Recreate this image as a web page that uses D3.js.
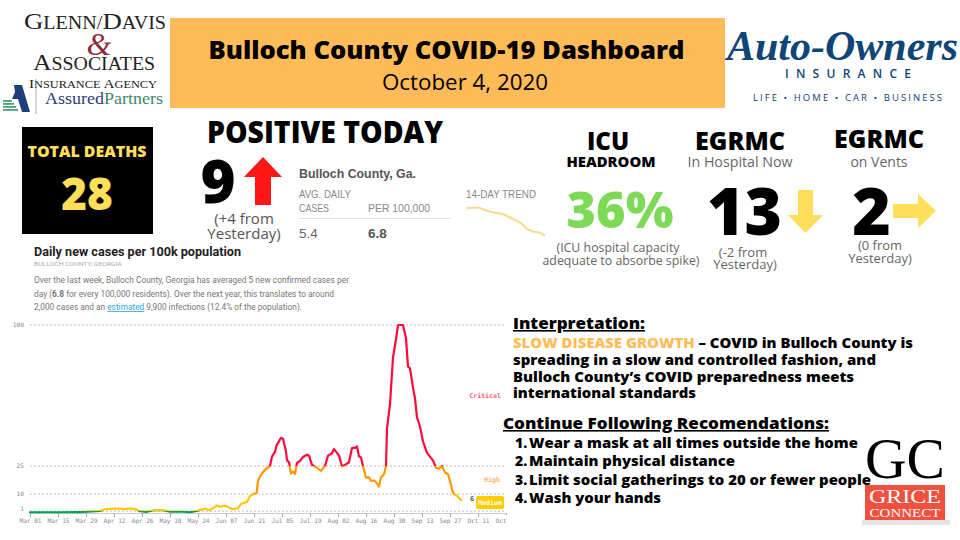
<!DOCTYPE html>
<html><head><meta charset="utf-8">
<script src="https://cdn.jsdelivr.net/npm/d3@7"></script>
<style>
html,body{margin:0;padding:0;background:#fff;width:960px;height:540px;overflow:hidden}
svg{display:block;font-family:"Open Sans",sans-serif}
</style></head><body><svg id="c" width="960" height="540"></svg>
<script>
// ---- data ----
const daysSinceMar1 = [0,15,25,31,35,37.5,41.5,44.5,47.5,50,52.5,55,58,62.5,66.5,70,75,80,84,87.5,90,93.5,95,97.5,101,104,105.5,108.5,110,111.5,113.3,114,115.3,117.5,120,121,122.5,123.3,125.5,126.5,128,128.5,129.5,130.5,131.5,132.5,133.5,135,136.5,138.5,139.5,141,143.5,145.5,147.5,149,151,152,153.5,154.5,156,157.5,159.5,161,162.5,163.5,164.5,165.5,166.5,168,169.5,170.5,172,173.5,174.5,175.5,177,178,178.5,180,181.5,183,184,186.5,188,189,190,191.5,192.5,193.5,195,196.5,198.5,201.5,203,204.5,206,207.5,209,210,211.3,212,213.5,215.3,215.7];
const caseRate = [0.4,0.4,0.5,0.9,1.1,2,2.3,2.4,2,2.5,2.1,1,0.6,1.6,1.5,0.7,0.8,0.4,1.3,2.3,1.5,4,3.3,4,2.1,2.5,4.8,5.9,9,10,10.5,17,20,23,25,30,32.5,36,40,39.5,32.7,28,27,21,22,20.8,26.6,27.7,29.8,31,30.5,25.6,24,22.4,25,30.5,31.8,34,32,30.5,24.7,25.6,27,34.6,34.6,35.4,30,29.5,25,18.8,19,17,17.3,15.8,14,19,20.6,25,45,57.8,82.7,92.4,100,100,93,78,77,66.7,61,50.7,46,38,32,28,24,23.5,25,21.5,20.6,17,11.4,10,9.2,7,6.8];
const tickDays = [0,14,28,42,56,70,84,98,112,126,140,154,168,182,196,210,224,238];
const gridLevels = [1,10,25,100];
const riskBands = [0,1,10,25,100];
const riskColors = ["#00a651","#ffc800","#ff9800","#ff0a3c"];
const trendValues = [32,32.2,32.3,30,28,27,26,23,20,17,11,8.5,7.5,4.3];
const interpretationLines = ["spreading in a slow and controlled fashion, and","Bulloch County\u2019s COVID preparedness meets","international standards"];
const recommendations = ["Wear a mask at all times outside the home","Maintain physical distance","Limit social gatherings to 20 or fewer people","Wash your hands"];
const paragraph = ["Over the last week, Bulloch County, Georgia has averaged 5 new confirmed cases per","day (<b>6.8</b> for every 100,000 residents). Over the next year, this translates to around","2,000 cases and an <u>estimated</u> 9,900 infections (12.4% of the population)."];

const svg = d3.select("#c");
function T(x,y,s,size,o={}){
  const t=svg.append("text").attr("x",x).attr("y",y).attr("font-size",size)
    .attr("fill",o.fill||"#000").attr("font-weight",o.w||400)
    .attr("text-anchor",o.a||"start").attr("font-family",o.f||null)
    .attr("font-style",o.i||null).attr("letter-spacing",o.ls||null)
    .attr("text-decoration",o.u?"underline":null).text(s);
  if(o.len) t.attr("textLength",o.len).attr("lengthAdjust",o.adj||"spacingAndGlyphs");
  return t;
}
const arrow=(pts,fill)=>svg.append("polygon").attr("points",pts).attr("fill",fill);

// ---- chart ----
const start=new Date(2020,2,1);
const toDate=d=>new Date(start.getTime()+d*864e5);
const x=d3.scaleTime().domain([toDate(0),toDate(238)]).range([30,506]);
const y=d3.scaleLinear().domain([0,100]).range([513,325]);
const mono='"DejaVu Sans Mono",monospace';
const chart=svg.append("g");
const defs=svg.append("defs");

const gridG=chart.append("g");
gridG.selectAll("line").data(gridLevels).join("line")
  .attr("x1",x.range()[0]).attr("x2",x.range()[1]).attr("y1",d=>y(d)).attr("y2",d=>y(d))
  .attr("stroke","#bdbdbd").attr("stroke-width",1).attr("stroke-dasharray","2 2");
gridG.selectAll("text").data(gridLevels).join("text")
  .attr("x",24).attr("y",d=>y(d)+(d===1?0:2)).attr("text-anchor","end")
  .attr("font-family",mono).attr("font-size",6.2).attr("fill","#888").text(d=>d);

const axis=d3.axisBottom(x).tickValues(tickDays.map(toDate)).tickFormat(d3.timeFormat("%b %d")).tickSize(4).tickSizeOuter(0);
const axG=chart.append("g").attr("transform","translate(0,513)").call(axis);
axG.attr("font-family",mono).attr("font-size",6.1);
axG.selectAll("text").attr("fill","#888").attr("dy","0.55em");
axG.selectAll("line").attr("stroke","#aaa");
axG.select(".domain").attr("stroke","#ccc");
svg.append("rect").attr("x",506).attr("y",515).attr("width",30).attr("height",12).attr("fill","#fff");

const pts=daysSinceMar1.map((d,i)=>[toDate(d),caseRate[i]]);
const line=d3.line().x(d=>x(d[0])).y(d=>y(d[1])).curve(d3.curveLinear);
riskColors.forEach((c,i)=>{
  const id="band"+i;
  const top=i===riskColors.length-1?y(riskBands[i+1])-4:y(riskBands[i+1]);
  const bot=i===0?y(0)+4:y(riskBands[i]);
  defs.append("clipPath").attr("id",id).append("rect").attr("x",0).attr("width",960).attr("y",top).attr("height",bot-top);
  chart.append("path").datum(pts).attr("d",line).attr("fill","none").attr("stroke",c)
    .attr("stroke-width",2.2).attr("stroke-linejoin","round").attr("stroke-linecap","round").attr("clip-path",`url(#${id})`);
});
T(501,398,"Critical",6.6,{f:mono,fill:"#ff5c80",a:"end",w:700});
T(500,482,"High",6.6,{f:mono,fill:"#ffb060",a:"end",w:700});
const lastRate=caseRate[caseRate.length-1];
T(474,y(lastRate)+0.5,Math.floor(lastRate),6.6,{f:mono,fill:"#555",a:"end",w:700});
svg.append("rect").attr("x",476).attr("y",496).attr("width",28).attr("height",13).attr("rx",2).attr("fill","#ffcc00");
T(490,504.8,"Medium",6.6,{f:mono,fill:"#fff",a:"middle",w:700});

// chart header
T(34,256,"Daily new cases per 100k population",12,{f:"Roboto",w:700,fill:"#222",len:207});
T(34,266,"BULLOCH COUNTY, GEORGIA",5.6,{f:"Roboto",fill:"#aaa",len:88});
const paraX=[315,300,268];
paragraph.forEach((p,i)=>{
  const t=svg.append("text").attr("x",34).attr("y",283+i*13.5).attr("font-family","Roboto").attr("font-size",8.4).attr("fill","#777");
  p.split(/(<b>.*?<\/b>|<u>.*?<\/u>)/).forEach(s=>{
    if(!s)return;
    const ts=t.append("tspan");
    if(s.startsWith("<b>")) ts.attr("font-weight",700).text(s.slice(3,-4));
    else if(s.startsWith("<u>")) ts.attr("fill","#35a7d8").attr("text-decoration","underline").text(s.slice(3,-4));
    else ts.text(s);
  });
  t.attr("textLength",paraX[i]).attr("lengthAdjust","spacingAndGlyphs");
});

// title banner
svg.append("rect").attr("x",170).attr("y",18).attr("width",555).attr("height",90).attr("fill","#ffbb58");
T(446.5,59,"Bulloch County COVID-19 Dashboard",25,{w:800,a:"middle",len:476});
T(465,90,"October 4, 2020",22,{a:"middle",len:166});

// Glenn/Davis logo
const serif='"Liberation Serif",serif';
const gd=T(24,29,"",21,{f:serif,fill:"#222"});
[["G",24],["LENN/",18],["D",24],["AVIS",18]].forEach(([s,z])=>gd.append("tspan").attr("font-size",z).text(s));
gd.attr("textLength",142).attr("lengthAdjust","spacingAndGlyphs");
T(99,55,"&",32,{f:serif,i:"italic",fill:"#8f2a3a",a:"middle"});
const as=T(33,70,"",21,{f:serif,fill:"#222"});
[["A",24],["SSOCIATES",18.5]].forEach(([s,z])=>as.append("tspan").attr("font-size",z).text(s));
as.attr("textLength",122).attr("lengthAdjust","spacingAndGlyphs");
const ia=T(29,88,"",12,{f:serif,fill:"#222"});
[["I",13],["NSURANCE ",10.5],["A",13],["GENCY",10.5]].forEach(([s,z])=>ia.append("tspan").attr("font-size",z).text(s));
ia.attr("textLength",128).attr("lengthAdjust","spacingAndGlyphs");
svg.append("line").attr("x1",36).attr("x2",36).attr("y1",79).attr("y2",114).attr("stroke","#888").attr("stroke-width",0.7);
arrow("14,85 22,85 30,112 22,112 18,99 12,99 15,92","#1f3f7a");
[100,103,106,109].forEach((yy,i)=>svg.append("rect").attr("x",3).attr("y",yy).attr("width",15-(3-i)*2).attr("height",1.8).attr("fill","#4f9d78"));
const ap=T(45,104,"",17,{f:serif});
ap.append("tspan").attr("fill","#2b3f7e").text("Assured");
ap.append("tspan").attr("fill","#3c8a6a").text("Partners");
ap.attr("textLength",118).attr("lengthAdjust","spacingAndGlyphs");

// Auto-Owners logo
const navy="#0f4577";
T(727,60,"Auto-Owners",42,{f:serif,w:700,i:"italic",fill:navy,len:231});
T(785,78,"INSURANCE",12,{w:600,fill:navy,len:126,adj:"spacing"});
T(753,101,"LIFE \u2022 HOME \u2022 CAR \u2022 BUSINESS",9.5,{fill:navy,len:189,adj:"spacing"});

// total deaths
svg.append("rect").attr("x",22).attr("y",127).attr("width",131).attr("height",107).attr("fill","#000");
T(87,157,"TOTAL DEATHS",15,{w:800,fill:"#ffde59",a:"middle",len:119});
T(87,210,"28",44,{w:800,fill:"#ffde59",a:"middle"});

// positive today
T(325,143,"POSITIVE TODAY",30,{w:800,a:"middle",len:236});
T(218,203,"9",60,{w:800,a:"middle"});
arrow("263,157 282,177 271,177 271,205 255,205 255,177 244,177","#ff1616");
T(244,224,"(+4 from",15,{fill:"#555",a:"middle"});
T(244,239,"Yesterday)",15,{fill:"#555",a:"middle"});

// state table
const ln='"Liberation Sans",sans-serif';
T(299,178,"Bulloch County, Ga.",13,{f:ln,w:700,fill:"#555",len:117});
T(299,198,"AVG. DAILY",10.5,{f:ln,fill:"#888",len:52});
T(299,212,"CASES",10.5,{f:ln,fill:"#888",len:30});
T(368,212,"PER 100,000",10.5,{f:ln,fill:"#888",len:62});
svg.append("line").attr("x1",299).attr("x2",451).attr("y1",218.5).attr("y2",218.5).attr("stroke","#e2e2e2");
T(299,238,"5.4",13.5,{f:ln,fill:"#666"});
T(368,238,"6.8",13.5,{f:ln,fill:"#555",w:700});
T(466,198,"14-DAY TREND",10,{f:ln,fill:"#888",len:70});
const tx=d3.scaleLinear().domain([0,trendValues.length-1]).range([467,545]);
const ty=d3.scaleLinear().domain([0,40]).range([240,200]);
svg.append("path").datum(trendValues).attr("fill","none").attr("stroke","#f3dc90").attr("stroke-width",2)
  .attr("d",d3.line().x((d,i)=>tx(i)).y(d=>ty(d)));

// ICU
T(608,150,"ICU",24,{w:800,a:"middle"});
T(611,167,"HEADROOM",14,{w:800,a:"middle",len:89});
T(620,228,"36%",50,{w:800,fill:"#7ed957",a:"middle",len:107});
T(618,252,"(ICU hospital capacity",12.5,{fill:"#666",a:"middle",len:123});
T(621,265,"adequate to absorbe spike)",12.5,{fill:"#666",a:"middle",len:157});

// EGRMC hospital
T(740,150,"EGRMC",24,{w:800,a:"middle",len:90});
T(740,167,"In Hospital Now",14,{fill:"#666",a:"middle",len:105});
T(744.5,235,"13",66,{w:800,a:"middle",len:75});
arrow("805.5,233 823,215 813,215 813,190 798,190 798,215 788,215","#ffde59");
T(743,257,"(-2 from",13,{fill:"#666",a:"middle"});
T(745,269,"Yesterday)",13,{fill:"#666",a:"middle"});

// EGRMC vents
T(879,148,"EGRMC",24,{w:800,a:"middle",len:90});
T(879,167,"on Vents",14,{fill:"#666",a:"middle"});
T(871.5,235,"2",66,{w:800,a:"middle"});
arrow("936,211 918,194 918,204 893,204 893,218 918,218 918,228","#ffde59");
T(880,250,"(0 from",13,{fill:"#666",a:"middle"});
T(880,263,"Yesterday)",13,{fill:"#666",a:"middle"});

// interpretation
T(513,329,"Interpretation:",16,{w:800,u:1,len:132});
const first=T(513,348,"",14,{w:800});
first.append("tspan").attr("fill","#ffbd59").text("SLOW DISEASE GROWTH");
first.append("tspan").text(" \u2013 COVID in Bulloch County is");
first.attr("textLength",400).attr("lengthAdjust","spacingAndGlyphs");
const lens=[363,341,183];
interpretationLines.forEach((s,i)=>T(513,365+i*16.7,s,14,{w:800,len:lens[i]}));
T(503,429,"Continue Following Recomendations:",16,{w:800,u:1,len:326});
const recLens=[329,206,342,132];
recommendations.forEach((s,i)=>{
  T(515,448+i*18.4,(i+1)+".",14,{w:800});
  T(529,448+i*18.4,s,14,{w:800,len:recLens[i]});
});

// Grice Connect logo
T(905,478,"GC",56,{f:serif,a:"middle",len:80});
svg.append("rect").attr("x",862).attr("y",520).attr("width",88).attr("height",5).attr("fill","#e4e4e4");
svg.append("rect").attr("x",865).attr("y",485).attr("width",80).attr("height",35).attr("fill","#f0513f");
T(905,503,"GRICE",18,{f:serif,fill:"#fff",a:"middle",len:72});
T(905,517,"CONNECT",12.5,{f:serif,fill:"#fff",a:"middle",len:71});
</script></body></html>
